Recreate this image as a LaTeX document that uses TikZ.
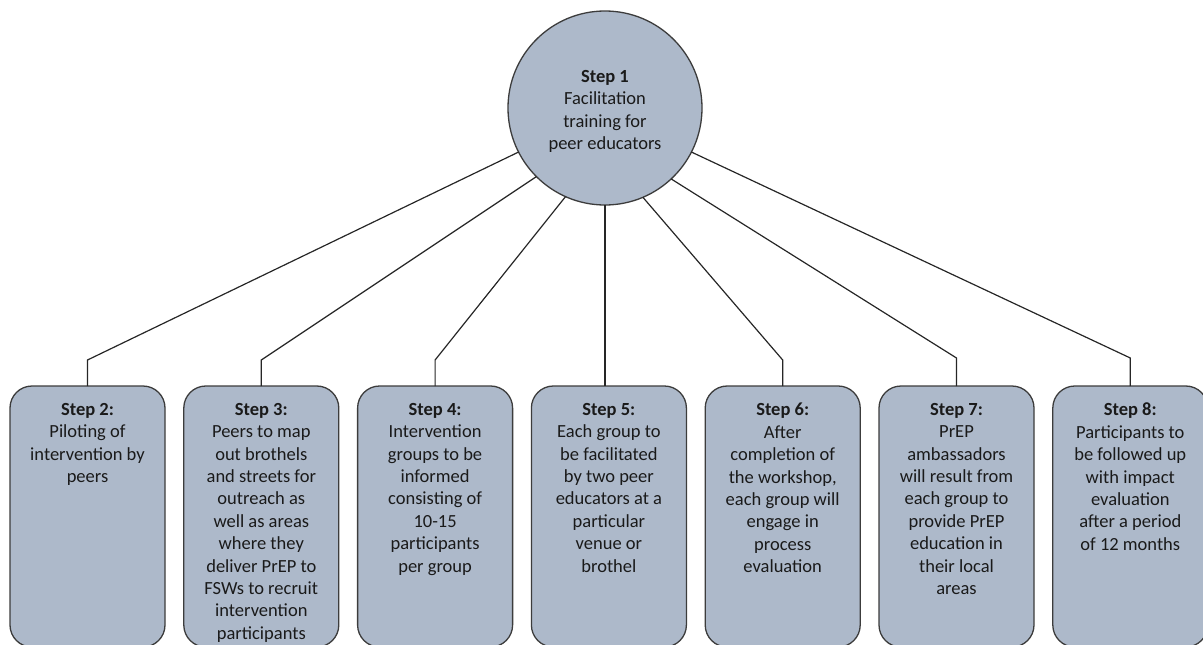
\documentclass[tikz,border=0pt]{standalone}
\usepackage{fontspec}
\setmainfont{Carlito}
\usetikzlibrary{calc}
\definecolor{boxfill}{HTML}{ADB9CA}
\definecolor{boxline}{HTML}{3C3C3C}
\definecolor{txt}{HTML}{1A1A1A}
\begin{document}
\begin{tikzpicture}[x=1pt,y=-1pt,
  stepbox/.style={draw=boxline, fill=boxfill, line width=1.3pt, rounded corners=22pt,
    minimum width=155pt, minimum height=261pt, inner sep=0pt, outer sep=0pt, anchor=north},
  hub/.style={circle, draw=boxline, fill=boxfill, line width=1.3pt, minimum size=194pt,
    inner sep=0pt, outer sep=0pt},
  steptext/.style={anchor=north, inner sep=0pt, align=center, text=txt,
    font=\fontsize{18.5}{22.4}\selectfont},
  link/.style={draw=black!85, line width=1.2pt},
]
\useasboundingbox (0,0) rectangle (1203,645);

% central training step
\node[hub] (c) at (605,108) {};
\node[steptext, anchor=center] (t1) at ($(c.center)+(0,3.5)$)
  {\textbf{Step 1}\\Facilitation\\training for\\peer educators};

% follow-up steps
\node[stepbox] (b2) at (87.5,386) {};
\node[stepbox] (b3) at (261.3,386) {};
\node[stepbox] (b4) at (435.1,386) {};
\node[stepbox] (b5) at (608.9,386) {};
\node[stepbox] (b6) at (782.7,386) {};
\node[stepbox] (b7) at (956.5,386) {};
\node[stepbox] (b8) at (1130.3,386) {};

\node[steptext] (t2) at ($(b2.north)+(0,17)$)
  {\textbf{Step 2:}\\Piloting of\\intervention by\\peers};
\node[steptext] (t3) at ($(b3.north)+(0,17)$)
  {\textbf{Step 3:}\\Peers to map\\out brothels\\and streets for\\outreach as\\well as areas\\where they\\deliver PrEP to\\FSWs to recruit\\intervention\\participants};
\node[steptext] (t4) at ($(b4.north)+(0,17)$)
  {\textbf{Step 4:}\\Intervention\\groups to be\\informed\\consisting of\\10-15\\participants\\per group};
\node[steptext] (t5) at ($(b5.north)+(0,17)$)
  {\textbf{Step 5:}\\Each group to\\be facilitated\\by two peer\\educators at a\\particular\\venue or\\brothel};
\node[steptext] (t6) at ($(b6.north)+(0,17)$)
  {\textbf{Step 6:}\\After\\completion of\\the workshop,\\each group will\\engage in\\process\\evaluation};
\node[steptext] (t7) at ($(b7.north)+(0,17)$)
  {\textbf{Step 7:}\\PrEP\\ambassadors\\will result from\\each group to\\provide PrEP\\education in\\their local\\areas};
\node[steptext] (t8) at ($(b8.north)+(0,17)$)
  {\textbf{Step 8:}\\Participants to\\be followed up\\with impact\\evaluation\\after a period\\of 12 months};

% connectors from the hub to each step
\draw[link] (c.207) -- ($(b2.north)+(0,-26)$) -- (b2.north);
\draw[link] (c.225) -- ($(b3.north)+(0,-26)$) -- (b3.north);
\draw[link] (c.246) -- ($(b4.north)+(0,-26)$) -- (b4.north);
\draw[link] (c.south) -- (c.south |- b5.north);
\draw[link] (c.293) -- ($(b6.north)+(0,-26)$) -- (b6.north);
\draw[link] (c.313) -- ($(b7.north)+(0,-28)$) -- (b7.north);
\draw[link] (c.333) -- ($(b8.north)+(0,-28)$) -- (b8.north);
\end{tikzpicture}
\end{document}
